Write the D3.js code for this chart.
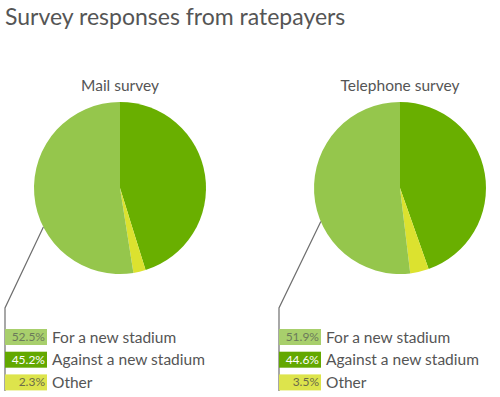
<!DOCTYPE html>
<html>
<head>
<meta charset="utf-8">
<script src="https://cdn.jsdelivr.net/npm/d3@7"></script>
<style>
  body { margin: 0; background: #fff; }
  text { font-family: Lato, "Open Sans", sans-serif; }
</style>
</head>
<body>
<div id="chart"></div>
<script>
// data
var categories = ["For a new stadium", "Against a new stadium", "Other"];
var surveys = ["Mail survey", "Telephone survey"];
var mailValues = [52.5, 45.2, 2.3];
var phoneValues = [51.9, 44.6, 3.5];
var pctLabels = [["52.5%", "45.2%", "2.3%"], ["51.9%", "44.6%", "3.5%"]];

var width = 500, height = 397;

var svg = d3.select("#chart")
  .append("svg")
    .attr("width", width)
    .attr("height", height);

var sliceColor = d3.scaleOrdinal()
  .domain(categories)
  .range(["#95c64c", "#69af00", "#dce22f"]);
var swatchColor = d3.scaleOrdinal()
  .domain(categories)
  .range(["#a8cf6c", "#63a800", "#dde44c"]);
var pctColor = d3.scaleOrdinal()
  .domain(categories)
  .range(["#6b7a5a", "#ffffff", "#6b6b4a"]);

// title
svg.append("text")
  .attr("x", 5)
  .attr("y", 25)
  .style("font-size", "23px")
  .style("fill", "#555")
  .text("Survey responses from ratepayers");

var radius = 86;
var centers = [120, 400];
var legendX = [5, 279];
var leaderAngle = [243, 247];

// clockwise from 12 o'clock: Against, Other, For
var drawOrder = [1, 2, 0];
var pie = d3.pie()
  .sort(null)
  .value(function(d) { return d.value; });
var arc = d3.arc().innerRadius(0).outerRadius(radius);

[mailValues, phoneValues].forEach(function(values, s) {
  var g = svg.append("g")
    .attr("transform", "translate(" + centers[s] + ",188)");

  g.append("text")
    .attr("x", 0)
    .attr("y", -97)
    .attr("text-anchor", "middle")
    .style("font-size", "15.5px")
    .style("fill", "#555")
    .text(surveys[s]);

  var rows = drawOrder.map(function(i) {
    return { cat: categories[i], value: values[i] };
  });

  g.selectAll("path")
    .data(pie(rows))
    .enter()
    .append("path")
      .attr("d", arc)
      .style("fill", function(d) { return sliceColor(d.data.cat); });

  // leader line from the "for" slice to the legend
  var a = leaderAngle[s] * Math.PI / 180;
  var px = centers[s] + radius * Math.sin(a);
  var py = 188 - radius * Math.cos(a);
  var lx = legendX[s];
  svg.append("polyline")
    .attr("points", [[px, py], [lx, 308], [lx, 391]].map(function(p) { return p.join(","); }).join(" "))
    .style("fill", "none")
    .style("stroke", "#6e6e6e")
    .style("stroke-width", 1.2);

  // legend
  var legend = svg.append("g")
    .attr("transform", "translate(" + lx + ",329)");

  var item = legend.selectAll("g")
    .data(categories)
    .enter()
    .append("g")
      .attr("transform", function(d, i) { return "translate(0," + (i * 22.7) + ")"; });

  item.append("rect")
    .attr("x", 0)
    .attr("y", 0)
    .attr("width", 42)
    .attr("height", 16)
    .style("fill", function(d) { return swatchColor(d); });

  item.append("text")
    .attr("x", 40)
    .attr("y", 12)
    .attr("text-anchor", "end")
    .style("font-size", "12px")
    .style("fill", function(d) { return pctColor(d); })
    .text(function(d, i) { return pctLabels[s][i]; });

  item.append("text")
    .attr("x", 47)
    .attr("y", 13.5)
    .style("font-size", "15.5px")
    .style("fill", "#555")
    .text(function(d) { return d; });
});
</script>
</body>
</html>
